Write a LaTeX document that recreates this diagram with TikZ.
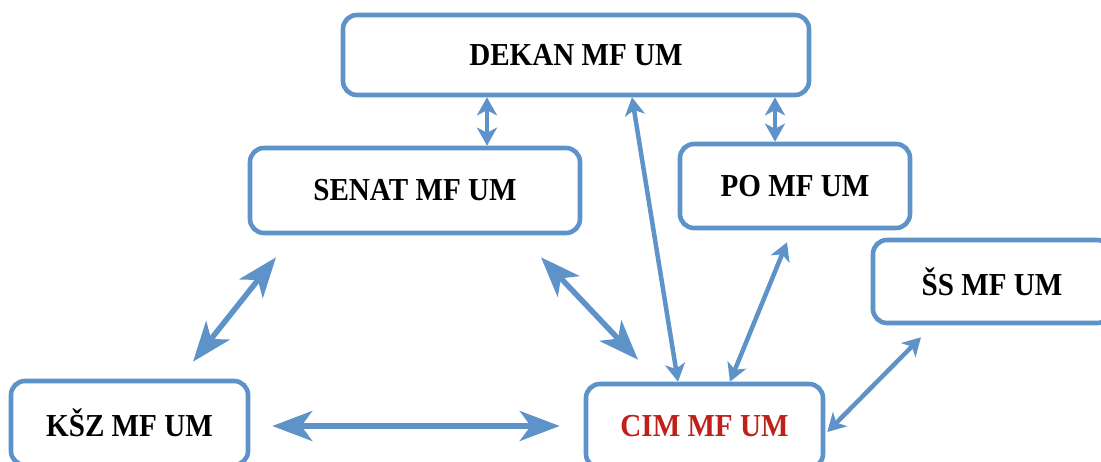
\documentclass[tikz,border=0pt]{standalone}
\usepackage{fontspec}
\setmainfont[FakeStretch=0.91]{Liberation Serif}
\usetikzlibrary{arrows.meta,calc}
\definecolor{boxblue}{RGB}{94,147,201}
\definecolor{cimred}{RGB}{192,32,28}
\begin{document}
\begin{tikzpicture}[x=1pt,y=-1pt,
  orgbox/.style={draw=boxblue, line width=4.6pt, rounded corners=14pt, fill=white,
    rectangle, inner sep=0pt, font=\fontsize{32}{36}\selectfont\bfseries},
  thinarrow/.style={draw=boxblue, line width=4.5pt,
    {Stealth[length=18pt,width=20pt,inset=5pt]}-{Stealth[length=18pt,width=20pt,inset=5pt]}},
  bigarrow/.style={draw=boxblue, line width=5.5pt,
    {Stealth[length=40pt,width=30pt,inset=11pt]}-{Stealth[length=40pt,width=30pt,inset=11pt]}}]
\useasboundingbox (0,0) rectangle (1101,462);
\clip (0,0) rectangle (1101,462);
\node[orgbox, minimum width=466pt, minimum height=80pt] (dekan) at (576,55) {DEKAN MF UM};
\node[orgbox, minimum width=330pt, minimum height=85pt] (senat) at (415,190.5) {SENAT MF UM};
\node[orgbox, minimum width=230pt, minimum height=84pt] (po) at (795,186) {PO MF UM};
\node[orgbox, minimum width=238pt, minimum height=83pt] (ss) at (992,281.5) {ŠS MF UM};
\node[orgbox, minimum width=237pt, minimum height=84pt] (ksz) at (129.5,423) {KŠZ MF UM};
\node[orgbox, minimum width=237pt, minimum height=84pt, text=cimred] (cim) at (704.5,426) {CIM MF UM};
% thin connectors
\draw[thinarrow] ([xshift=-89pt]dekan.south) -- ([xshift=72pt]senat.north);
\draw[thinarrow] ([xshift=199pt]dekan.south) -- ([xshift=-20pt]po.north);
\draw[thinarrow] ([xshift=56pt]dekan.south) -- ([xshift=-26.5pt]cim.north);
\draw[thinarrow] ([xshift=25.5pt]cim.north) -- ([xshift=-8pt,yshift=-12pt]po.south);
\draw[thinarrow] ([xshift=2pt,yshift=-6pt]cim.east) -- ([xshift=-71pt,yshift=-12pt]ss.south);
% big connectors
\coordinate (k1) at ($(ksz.north)+(63.5,-17)$);
\coordinate (s1) at ($(senat.south)+(-139,22)$);
\coordinate (s2) at ($(senat.south)+(126,22)$);
\coordinate (c1) at ($(cim.north)+(-66.5,-22)$);
\coordinate (k2) at ($(ksz.east)+(22,3)$);
\coordinate (c2) at ($(cim.west)+(-24,0)$);
\draw[bigarrow] (k1) -- (s1);
\draw[bigarrow] (s2) -- (c1);
\draw[bigarrow] (k2) -- (c2);
\end{tikzpicture}
\end{document}
